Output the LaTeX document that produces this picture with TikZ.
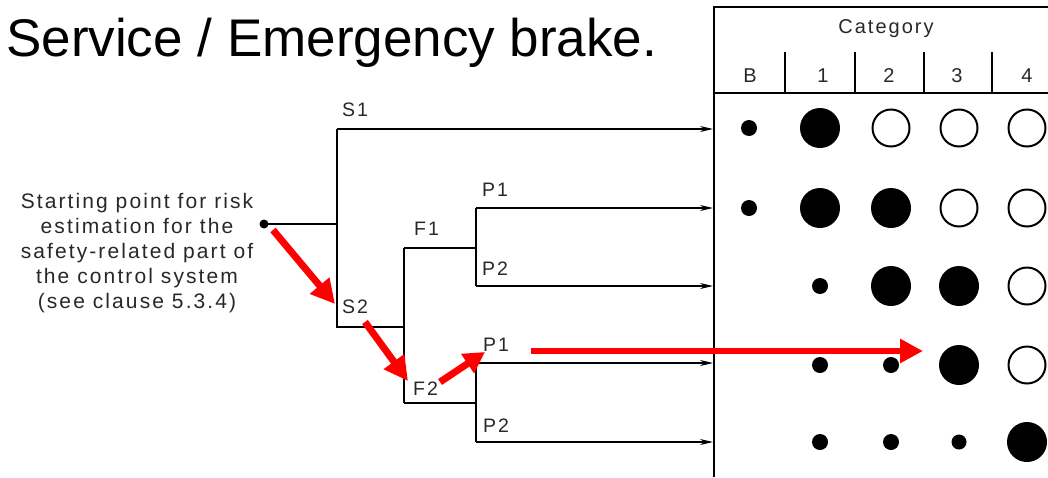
\documentclass[tikz,border=0pt]{standalone}
\usepackage{fontspec}
\setmainfont{Liberation Sans}
\newfontfamily\spaced[LetterSpace=10]{Liberation Sans}
\usetikzlibrary{arrows.meta}
\definecolor{arrred}{RGB}{255,0,0}
\definecolor{txtgray}{RGB}{40,40,40}
\begin{document}
\begin{tikzpicture}[x=1pt,y=-1pt,
  lbl/.style={anchor=base west,inner sep=0pt,font=\spaced\fontsize{19.5}{22}\selectfont,text=txtgray},
  hdr/.style={anchor=base,inner sep=0pt,font=\spaced\fontsize{20}{22}\selectfont,text=txtgray},
  thin/.style={line width=1.3pt},
  blk/.style={line width=1.3pt,-{Stealth[length=13pt,width=6pt]}},
  border/.style={line width=2.7pt},
  big/.style={circle,fill=black,minimum size=40pt,inner sep=0pt},
  open/.style={circle,draw=black,line width=2pt,minimum size=37pt,inner sep=0pt},
  small/.style={circle,fill=black,minimum size=16pt,inner sep=0pt},
  tiny/.style={circle,fill=black,minimum size=15pt,inner sep=0pt},
  redarr/.style={arrred,line width=7pt,-{Triangle[length=24pt,width=24pt]}},
]
\useasboundingbox (0,0) rectangle (1048,477);
% title
\node[anchor=base west,inner sep=0pt,font=\fontsize{53}{60}\selectfont] (title) at (6,56) {Service / Emergency brake.};
% table frame
\coordinate (tl) at (714,7);
\coordinate (bl) at (714,477);
\coordinate (tr) at (1049,7);
\coordinate (hl) at (714,93);
\coordinate (hr) at (1049,93);
\draw[border] (bl) -- (tl) -- (tr);
\draw[border] (hl) -- (hr);
\foreach \x in {785,855,924,992}{
  \draw[border] (\x,52) -- (\x,93);
}
\node[hdr] (cat) at (886,33) {Category};
\node[hdr] (cB) at (750,82) {B};
\node[hdr] (c1) at (823,82) {1};
\node[hdr] (c2) at (889,82) {2};
\node[hdr] (c3) at (957,82) {3};
\node[hdr] (c4) at (1027,82) {4};
% row 1
\node[small] (r1b) at (749,128) {};
\node[big] (r1a) at (820,128) {};
\node[open] (r1c) at (891,128) {};
\node[open] (r1d) at (959,128) {};
\node[open] (r1e) at (1027,128) {};
% row 2
\node[small] (r2b) at (749,208) {};
\node[big] (r2a) at (820,208) {};
\node[big] (r2c) at (891,208) {};
\node[open] (r2d) at (959,208) {};
\node[open] (r2e) at (1027,208) {};
% row 3
\node[small] (r3a) at (820,286) {};
\node[big] (r3c) at (891,286) {};
\node[big] (r3d) at (959,286) {};
\node[open] (r3e) at (1027,286) {};
% row 4
\node[small] (r4a) at (820,365) {};
\node[small] (r4c) at (891,365) {};
\node[big] (r4d) at (959,365) {};
\node[open] (r4e) at (1027,365) {};
% row 5
\node[small] (r5a) at (820,442) {};
\node[small] (r5c) at (891,442) {};
\node[tiny] (r5d) at (959,442) {};
\node[big] (r5e) at (1027,442) {};
% starting text
\node[align=center,inner sep=0pt,font=\spaced\fontsize{21}{25}\selectfont,text=txtgray] (start) at (137,253)
  {Starting point for risk\\estimation for the\\safety-related part of\\the control system\\(see clause 5.3.4)};
% tree
\coordinate (s0) at (264,224);
\coordinate (j0) at (337,224);
\coordinate (s1) at (337,129);
\coordinate (s2) at (337,327);
\coordinate (f) at (404,327);
\coordinate (f1) at (404,248);
\coordinate (f2) at (404,403);
\coordinate (f1p) at (476,248);
\coordinate (p11) at (476,208);
\coordinate (p12) at (476,286);
\coordinate (f2p) at (476,403);
\coordinate (p21) at (476,363);
\coordinate (p22) at (476,442);
\coordinate (e1) at (713,129);
\coordinate (e2) at (713,208);
\coordinate (e3) at (713,286);
\coordinate (e4) at (713,363);
\coordinate (e5) at (713,442);
\fill (s0) circle (4.5pt);
\draw[line width=2.5pt] (s0) -- (j0);
\draw[thin] (s1) -- (s2) -- (f);
\draw[thin] (f1) -- (f2);
\draw[thin] (f1) -- (f1p);
\draw[thin] (f2) -- (f2p);
\draw[thin] (p11) -- (p12);
\draw[thin] (p21) -- (p22);
\draw[blk] (s1) -- (e1);
\draw[blk] (p11) -- (e2);
\draw[blk] (p12) -- (e3);
\draw[blk] (p21) -- (e4);
\draw[blk] (p22) -- (e5);
% labels
\node[lbl] (S1) at (342,116) {S1};
\node[lbl] (S2) at (342,313) {S2};
\node[lbl] (F1) at (414,235) {F1};
\node[lbl] (F2) at (413,395) {F2};
\node[lbl] (P11) at (482,196) {P1};
\node[lbl] (P12) at (482,275) {P2};
\node[lbl] (P21) at (483,351) {P1};
\node[lbl] (P22) at (483,432) {P2};
% red arrows
\coordinate (a1s) at (273,230);
\coordinate (a1e) at (335,304);
\coordinate (a2s) at (365,322);
\coordinate (a2e) at (408,381);
\coordinate (a3s) at (440,382);
\coordinate (a3e) at (485,352);
\coordinate (a4s) at (531,351);
\coordinate (a4e) at (923,351);
\draw[redarr] (a1s) -- (a1e);
\draw[redarr] (a2s) -- (a2e);
\draw[redarr,-{Triangle[length=21pt,width=22pt]}] (a3s) -- (a3e);
\draw[redarr,line width=6.5pt,-{Triangle[length=23pt,width=23pt]}] (a4s) -- (a4e);
\end{tikzpicture}
\end{document}
